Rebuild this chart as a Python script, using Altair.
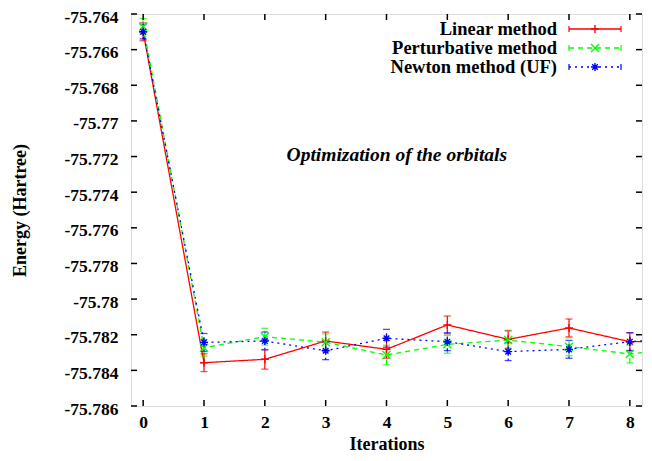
import altair as alt
import pandas as pd

# ---- data ----
iterations = [0, 1, 2, 3, 4, 5, 6, 7, 8, 9]
methods = ["Linear method", "Perturbative method", "Newton method (UF)"]
linear = [-75.7650, -75.78357, -75.78338, -75.78235, -75.78282, -75.78145, -75.78226, -75.78162, -75.78239, -75.7824]
linear_err = [0.0005, 0.0005, 0.00055, 0.0005, 0.0005, 0.0005, 0.0005, 0.0005, 0.0005, 0.0005]
perturbative = [-75.7647, -75.78273, -75.78211, -75.78242, -75.78314, -75.78254, -75.78230, -75.78267, -75.78308, -75.7827]
perturbative_err = [0.00045, 0.00047, 0.00047, 0.00047, 0.00055, 0.0005, 0.0005, 0.0005, 0.0005, 0.0005]
newton = [-75.7650, -75.78243, -75.78235, -75.78290, -75.78220, -75.78239, -75.78295, -75.78282, -75.78239, -75.7822]
newton_err = [0.0004, 0.0005, 0.0005, 0.0005, 0.0005, 0.0005, 0.0005, 0.0005, 0.0005, 0.0005]
x_ticks = [0, 1, 2, 3, 4, 5, 6, 7, 8]
y_ticks = [-75.786, -75.784, -75.782, -75.78, -75.778, -75.776, -75.774, -75.772, -75.77, -75.768, -75.766, -75.764]
annotation = {"x": 4.17, "y": -75.7719, "text": "Optimization of the orbitals"}

colors = ["#ff0000", "#00ff00", "#0000ff"]
dashes = [[1, 0], [5, 4], [2, 4]]
shapes = [
    "M-1,0L1,0M0,-1L0,1",
    "M-1,-1L1,1M-1,1L1,-1",
    "M-1,0L1,0M0,-1L0,1M-0.7,-0.7L0.7,0.7M-0.7,0.7L0.7,-0.7",
]

rows = []
for m, vals, errs in zip(methods, [linear, perturbative, newton], [linear_err, perturbative_err, newton_err]):
    for i, v, e in zip(iterations, vals, errs):
        rows.append({"method": m, "iter": i, "energy": v, "lo": v - e, "hi": v + e})
df = pd.DataFrame(rows)

W, H = 511, 392
FONT = "Liberation Serif"

xscale = alt.Scale(domain=[-0.2, 8.2], nice=False, zero=False)
yscale = alt.Scale(domain=[-75.786, -75.764], nice=False, zero=False)
cscale = alt.Scale(domain=methods, range=colors)
dscale = alt.Scale(domain=methods, range=dashes)
sscale = alt.Scale(domain=methods, range=shapes)

xaxis = alt.Axis(values=x_ticks, format="d", title="Iterations", grid=False, ticks=False, domain=False,
                 labelOverlap=False,
                 labelFont=FONT, labelFontWeight="bold", labelFontSize=17.5, labelPadding=7,
                 titleFont=FONT, titleFontWeight="bold", titleFontSize=18, titlePadding=5,
                 labelColor="black", titleColor="black")
yaxis = alt.Axis(values=y_ticks, title="Energy (Hartree)", grid=False, ticks=False, domain=False,
                 labelOverlap=False, labelSeparation=0, labelOffset=3,
                 labelFont=FONT, labelFontWeight="bold", labelFontSize=17.5, labelPadding=13,
                 labelExpr="replace(format(datum.value, '.3~f'), '\u2212', '-')",
                 titleFont=FONT, titleFontWeight="bold", titleFontSize=18, titlePadding=35,
                 labelColor="black", titleColor="black")

base = alt.Chart(df)
X = lambda f: alt.X(f, scale=xscale, axis=xaxis, title="Iterations")
Y = lambda f: alt.Y(f, scale=yscale, axis=yaxis, title="Energy (Hartree)")

color = alt.Color("method:N", scale=cscale, legend=None)
dash = alt.StrokeDash("method:N", scale=dscale, legend=None)

lines = base.mark_line(strokeWidth=1.3, clip=True).encode(x=X("iter:Q"), y=Y("energy:Q"), color=color, strokeDash=dash, detail="method:N")
bars = base.mark_rule(strokeWidth=1.2, clip=True).encode(x=X("iter:Q"), y=Y("lo:Q"), y2="hi:Q", color=color, strokeDash=dash)
cap_lo = base.mark_tick(orient="horizontal", size=7, thickness=1.3, clip=True).encode(x=X("iter:Q"), y=Y("lo:Q"), color=color)
cap_hi = base.mark_tick(orient="horizontal", size=7, thickness=1.3, clip=True).encode(x=X("iter:Q"), y=Y("hi:Q"), color=color)
pts = base.mark_point(filled=False, size=64, strokeWidth=1.4, clip=True, opacity=1).encode(
    x=X("iter:Q"), y=Y("energy:Q"), color=color, shape=alt.Shape("method:N", scale=sscale, legend=None))

# inward frame ticks
xt = pd.DataFrame({"t": x_ticks})
yt = pd.DataFrame({"t": y_ticks})
tick_style = dict(color="black", strokeWidth=1.5)
bt = alt.Chart(xt).mark_rule(**tick_style).encode(x=X("t:Q"), y=alt.value(H), y2=alt.value(H - 6))
tt = alt.Chart(xt).mark_rule(**tick_style).encode(x=X("t:Q"), y=alt.value(0), y2=alt.value(6))
lt = alt.Chart(yt).mark_rule(**tick_style).encode(y=Y("t:Q"), x=alt.value(0), x2=alt.value(6))
rt = alt.Chart(yt).mark_rule(**tick_style).encode(y=Y("t:Q"), x=alt.value(W), x2=alt.value(W - 6))

# annotation
ann = alt.Chart(pd.DataFrame([annotation])).mark_text(
    font=FONT, fontSize=19.5, fontWeight="bold", fontStyle="italic", color="black", align="center", baseline="middle"
).encode(x=X("x:Q"), y=Y("y:Q"), text="text:N")

# legend (gnuplot style, text left of sample)
legend_layers = []
row_y = [15, 34, 53]
dummy = alt.Data(values=[{"a": 1}])
for m, c, d, s, ry in zip(methods, colors, dashes, shapes, row_y):
    legend_layers.append(alt.Chart(dummy).mark_text(font=FONT, fontSize=18.5, fontWeight="bold", color="black",
                                                    align="right", baseline="middle", text=m)
                         .encode(x=alt.value(426), y=alt.value(ry)))
    legend_layers.append(alt.Chart(dummy).mark_rule(color=c, strokeWidth=1.3, strokeDash=d)
                         .encode(x=alt.value(438), x2=alt.value(490), y=alt.value(ry)))
    for ex in (438, 490):
        legend_layers.append(alt.Chart(dummy).mark_rule(color=c, strokeWidth=1.2)
                             .encode(x=alt.value(ex), y=alt.value(ry - 3), y2=alt.value(ry + 3)))
    legend_layers.append(alt.Chart(dummy).mark_point(shape=s, filled=False, size=64, strokeWidth=1.4, color=c, opacity=1)
                         .encode(x=alt.value(464), y=alt.value(ry)))

chart = alt.layer(lines, bars, cap_lo, cap_hi, pts, bt, tt, lt, rt, ann, *legend_layers).properties(
    width=W, height=H,
    autosize=alt.AutoSizeParams(type="none"),
    padding={"left": 123, "top": 6, "right": 2, "bottom": 47},
).configure_view(stroke="black", strokeWidth=2).configure(background="white")

chart.save("out.html", embed_options={"renderer": "svg", "actions": False})
